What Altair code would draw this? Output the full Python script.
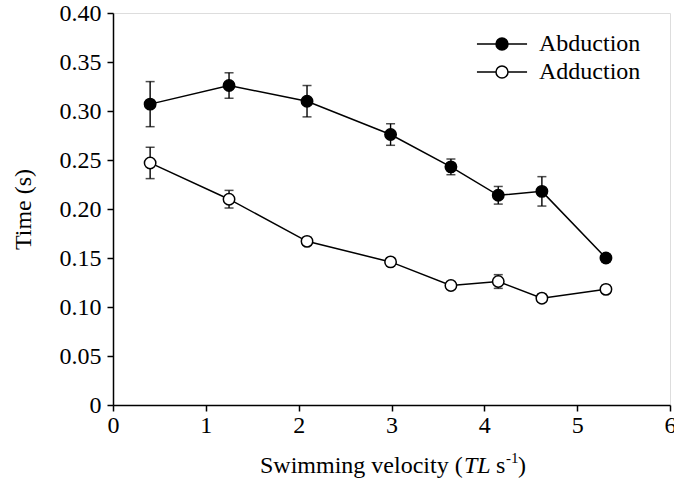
import altair as alt
import pandas as pd

velocity = [0.40, 1.25, 2.09, 2.99, 3.64, 4.15, 4.62, 5.31]
abduction = [0.307, 0.326, 0.310, 0.276, 0.243, 0.214, 0.218, 0.150]
abduction_err = [0.023, 0.013, 0.016, 0.011, 0.008, 0.009, 0.015, 0.004]
adduction = [0.247, 0.210, 0.167, 0.146, 0.122, 0.126, 0.109, 0.118]
adduction_err = [0.016, 0.009, 0.004, 0.004, 0.004, 0.007, 0.004, 0.004]
series_names = ["Abduction", "Adduction"]
x_ticks = [0, 1, 2, 3, 4, 5, 6]
y_ticks = [0, 0.05, 0.10, 0.15, 0.20, 0.25, 0.30, 0.35, 0.40]

rows = []
for name, vals, errs in [("Abduction", abduction, abduction_err), ("Adduction", adduction, adduction_err)]:
    for v, t, e in zip(velocity, vals, errs):
        rows.append({"series": name, "v": v, "t": t, "lo": t - e, "hi": t + e})
df = pd.DataFrame(rows)

FONT = "Liberation Serif"

xscale = alt.Scale(domain=[0, 6], nice=False, zero=True)
yscale = alt.Scale(domain=[0, 0.4], nice=False, zero=True)

xaxis = alt.Axis(values=x_ticks, title=None, format="d", labelFont=FONT, labelFontSize=24,
                 labelColor="black", tickColor="black", tickSize=6, tickWidth=1.5,
                 domainColor="black", domainWidth=1.5, labelPadding=2, grid=False,
                 labelFlush=False)
yaxis = alt.Axis(values=y_ticks, title="Time (s)", titleFont=FONT, titleFontSize=24,
                 titleFontWeight="normal", titleColor="black", titlePadding=24,
                 labelFont=FONT, labelFontSize=24, labelColor="black",
                 tickColor="black", tickSize=6, tickWidth=1.5,
                 domainColor="black", domainWidth=1.5, labelPadding=6, grid=False,
                 labelFlush=False,
                 labelExpr="datum.value == 0 ? '0' : format(datum.value, '.2f')")

base = alt.Chart(df)

lines = base.mark_line(color="black", strokeWidth=1.5).encode(
    x=alt.X("v:Q", scale=xscale, axis=xaxis),
    y=alt.Y("t:Q", scale=yscale, axis=yaxis),
    detail="series:N",
)

err_rule = base.mark_rule(color="black", strokeWidth=1.4).encode(
    x="v:Q", y="lo:Q", y2="hi:Q"
)
cap_hi = base.mark_tick(color="black", orient="horizontal", size=9, thickness=1.5).encode(
    x="v:Q", y="hi:Q"
)
cap_lo = base.mark_tick(color="black", orient="horizontal", size=9, thickness=1.5).encode(
    x="v:Q", y="lo:Q"
)

# symbol nominal box 30px (size 900); line reaches 25px each side, circle r=6px
legend_path = ("M-1.67,0L-0.42,0M0.4,0A0.4,0.4,0,1,1,-0.4,0"
               "A0.4,0.4,0,1,1,0.4,0ZM0.42,0L1.67,0")

points = base.mark_point(filled=False, shape="circle", size=130, stroke="black",
                         strokeWidth=1.5, opacity=1).encode(
    x="v:Q", y="t:Q",
    fill=alt.Fill("series:N",
                  scale=alt.Scale(domain=series_names, range=["black", "white"]),
                  legend=alt.Legend(title=None, orient="none", legendX=373, legendY=15,
                                    symbolType=legend_path, symbolSize=900,
                                    symbolStrokeColor="black", symbolStrokeWidth=1.5,
                                    labelFont=FONT, labelFontSize=24, labelColor="black",
                                    labelOffset=21, rowPadding=0)),
)

def txt(s, x, y, size=24, style="normal"):
    return alt.Chart(alt.Data(values=[{"s": s}])).mark_text(
        align="left", baseline="alphabetic", font=FONT, fontSize=size,
        fontStyle=style, color="black"
    ).encode(x=alt.value(x), y=alt.value(y), text="s:N")

title_parts = [
    txt("Swimming velocity (", 147, 460),
    txt("TL", 351, 460, style="italic"),
    txt("s", 383, 460),
    txt("-1", 393, 450, size=15),
    txt(")", 405, 460),
]

chart = alt.layer(lines, err_rule, cap_hi, cap_lo, points, *title_parts).properties(
    width=557, height=392,
    autosize=alt.AutoSizeParams(type="none"),
    padding={"left": 113, "top": 13, "right": 4, "bottom": 74},
).configure_view(stroke="black", strokeWidth=1.5).configure(background="white")

chart.save("out.html", embed_options={"renderer": "svg", "actions": False})
